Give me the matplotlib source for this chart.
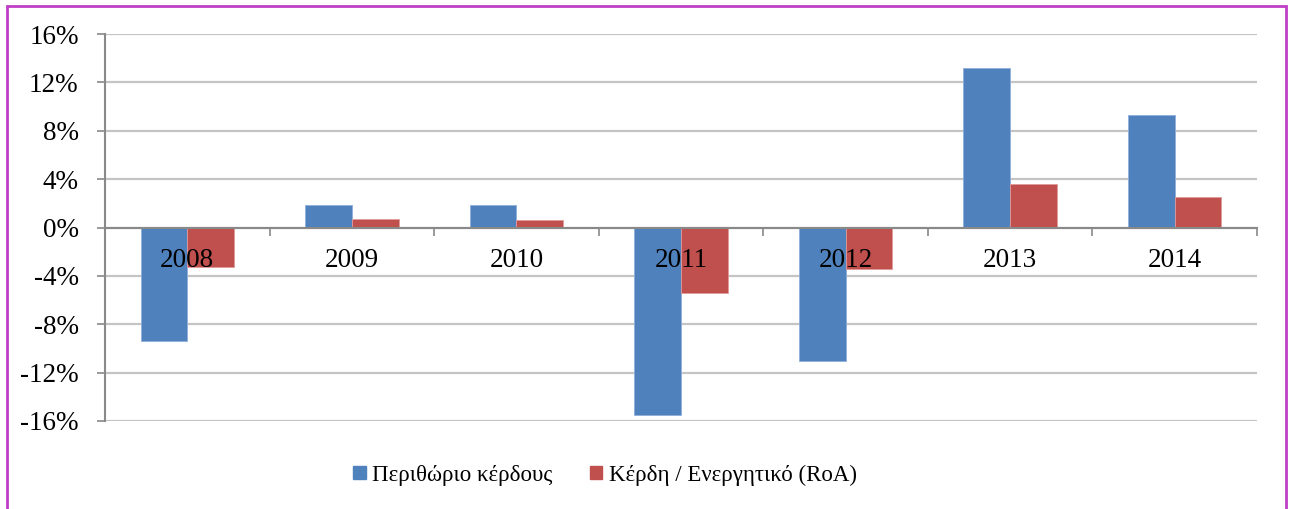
import numpy as np
import matplotlib.pyplot as plt
from matplotlib.patches import Patch, Rectangle
from matplotlib.ticker import FuncFormatter, FixedLocator

years = ['2008', '2009', '2010', '2011', '2012', '2013', '2014']
profit_margin = [-9.4, 1.9, 1.9, -15.5, -11.0, 13.2, 9.3]
roa = [-3.25, 0.7, 0.6, -5.4, -3.4, 3.6, 2.5]
series_names = ['Περιθώριο κέρδους', 'Κέρδη / Ενεργητικό (RoA)']

blue = '#4F81BD'
red = '#C0504D'
axis_grey = '#898989'

plt.rcParams['font.family'] = ['Liberation Serif', 'DejaVu Serif']
plt.rcParams['font.size'] = 19.5

fig = plt.figure(figsize=(12.93, 5.09), dpi=100)
ax = fig.add_axes([105 / 1293, 1 - 421 / 509, (1257 - 105) / 1293, (421 - 34) / 509])

x = np.arange(len(years))
w = 0.284
ax.bar(x - w / 2, profit_margin, w, color=blue, edgecolor='#8FAEDB', linewidth=0.6, zorder=3)
ax.bar(x + w / 2, roa, w, color=red, edgecolor='#E09A98', linewidth=0.6, zorder=3)

ax.set_xlim(-0.5, len(years) - 0.5)
ax.set_ylim(-16, 16)
ax.set_yticks(np.arange(-16, 17, 4))
ax.yaxis.set_major_formatter(FuncFormatter(lambda v, p: f'{v:.0f}%'))
ax.yaxis.grid(True, color='#C4C4C4', linewidth=1.6, zorder=0)
ax.tick_params(axis='y', length=6, width=1.2, color=axis_grey, pad=13)

# category ticks on the zero line, labels between them (drawn over the bars)
ax.spines['bottom'].set_position(('data', 0))
ax.xaxis.set_major_locator(FixedLocator(np.arange(-0.5, len(years), 1.0)))
ax.xaxis.set_major_formatter(FuncFormatter(lambda v, p: ''))
ax.xaxis.set_minor_locator(FixedLocator(x))
ax.set_xticklabels(years, minor=True)
ax.tick_params(axis='x', which='major', length=6, width=1.2, color=axis_grey, direction='out')
ax.tick_params(axis='x', which='minor', length=0, pad=15)
ax.xaxis.set_zorder(5)

for s in ['top', 'right']:
    ax.spines[s].set_visible(False)
for s in ['left', 'bottom']:
    ax.spines[s].set_color(axis_grey)
    ax.spines[s].set_linewidth(1.5)
    ax.spines[s].set_zorder(4)

handles = [Patch(color=blue), Patch(color=red)]
fig.legend(handles, series_names, loc='center', bbox_to_anchor=(605 / 1293, 1 - 475 / 509),
           ncol=2, frameon=False, fontsize=16.5, handlelength=0.55, handleheight=0.55,
           handletextpad=0.3, columnspacing=1.6)

# outer chart border
fig.patches.append(Rectangle((7 / 1293, -0.05), (1286 - 7) / 1293, 1.05 - 6 / 509,
                             transform=fig.transFigure, fill=False,
                             edgecolor='#BE3EC6', linewidth=2))

fig.savefig('out.png', dpi=100)
